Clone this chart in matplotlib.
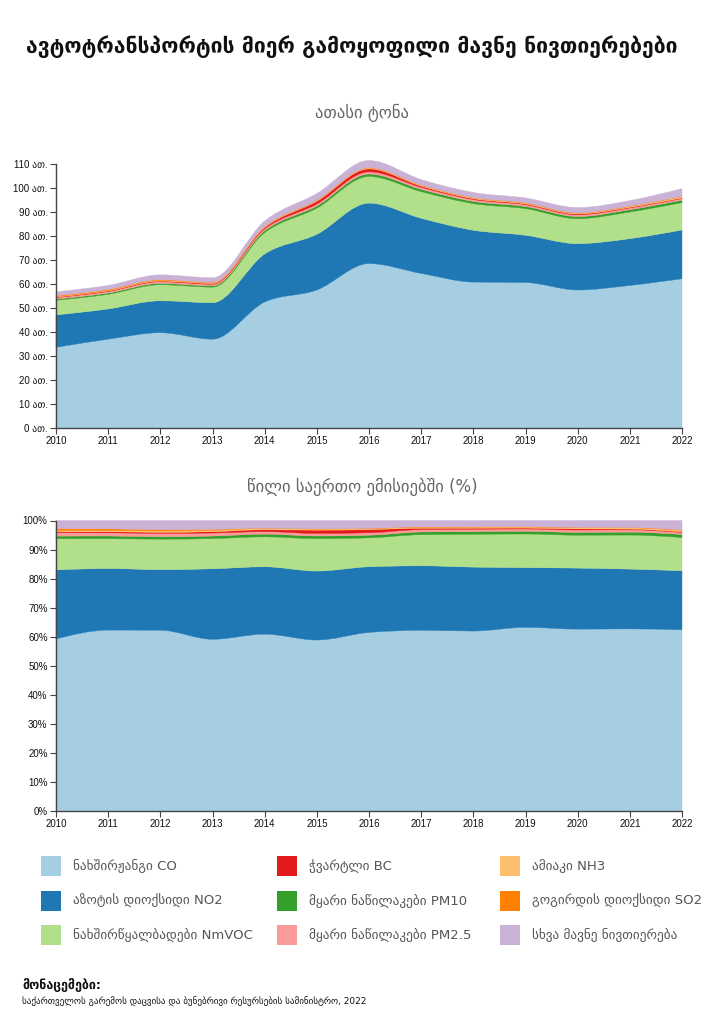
import numpy as np
import matplotlib
matplotlib.use("Agg")
import matplotlib.pyplot as plt
from matplotlib.path import Path
from matplotlib.patches import PathPatch, Rectangle

plt.rcParams['font.family'] = ['DejaVu Sans']

years = [2010, 2011, 2012, 2013, 2014, 2015, 2016, 2017, 2018, 2019, 2020, 2021, 2022]

# ათასი ტონა
co = [33.6, 37.0, 39.7, 37.0, 52.5, 57.5, 68.5, 64.4, 60.8, 60.6, 57.5, 59.4, 62.2]
no2 = [13.5, 12.6, 13.3, 15.2, 20.0, 23.2, 25.2, 23.0, 21.6, 19.7, 19.3, 19.5, 20.3]
nmvoc = [6.1, 6.1, 6.7, 6.5, 8.9, 10.9, 11.1, 11.1, 11.1, 11.1, 10.4, 11.1, 11.4]
pm10 = [0.5, 0.55, 0.55, 0.55, 0.8, 0.9, 1.0, 0.95, 0.9, 0.9, 0.9, 0.95, 1.05]
pm25 = [0.65, 0.65, 0.7, 0.65, 0.75, 0.85, 0.95, 0.85, 0.8, 0.75, 0.75, 0.75, 0.7]
bc = [0.2, 0.22, 0.25, 0.3, 0.55, 1.1, 1.2, 0.5, 0.35, 0.3, 0.35, 0.25, 0.2]
nh3 = [0.25, 0.27, 0.3, 0.3, 0.35, 0.35, 0.4, 0.35, 0.35, 0.35, 0.35, 0.4, 0.55]
so2 = [0.35, 0.33, 0.3, 0.2, 0.1, 0.1, 0.1, 0.1, 0.1, 0.1, 0.1, 0.1, 0.1]
other = [1.6, 1.7, 2.0, 1.9, 2.3, 2.8, 3.0, 2.3, 2.15, 2.05, 2.2, 2.3, 3.25]

# stacking order, bottom to top
series = [co, no2, nmvoc, pm10, pm25, bc, nh3, so2, other]
colors = ['#a6cee3', '#1f78b4', '#b2df8a', '#33a02c', '#fb9a99',
          '#e31a1c', '#fdbf6f', '#ff7f00', '#cab2d6']

legend_labels = [
    ['ნახშირჟანგი CO', 'აზოტის დიოქსიდი NO2', 'ნახშირწყალბადები NmVOC'],
    ['ჭვარტლი BC', 'მყარი ნაწილაკები PM10', 'მყარი ნაწილაკები PM2.5'],
    ['ამიაკი NH3', 'გოგირდის დიოქსიდი SO2', 'სხვა მავნე ნივთიერება'],
]
legend_colors = [
    ['#a6cee3', '#1f78b4', '#b2df8a'],
    ['#e31a1c', '#33a02c', '#fb9a99'],
    ['#fdbf6f', '#ff7f00', '#cab2d6'],
]


def tangents(x, y):
    # monotone cubic tangents (like d3.curveMonotoneX)
    n = len(x)
    h = np.diff(x)
    s = np.diff(y) / h
    t = np.zeros(n)
    for i in range(1, n - 1):
        p = (s[i - 1] * h[i] + s[i] * h[i - 1]) / (h[i - 1] + h[i])
        t[i] = (np.sign(s[i - 1]) + np.sign(s[i])) * min(abs(s[i - 1]), abs(s[i]), 0.5 * abs(p))
    t[0] = (3 * s[0] - t[1]) / 2
    t[-1] = (3 * s[-1] - t[-2]) / 2
    return t


def band(ax, x, lo, hi, color):
    x = np.asarray(x, float)
    tl, th = tangents(x, lo), tangents(x, hi)
    verts = [(x[0], hi[0])]
    codes = [Path.MOVETO]
    for k in range(len(x) - 1):
        dx = (x[k + 1] - x[k]) / 3
        verts += [(x[k] + dx, hi[k] + dx * th[k]),
                  (x[k + 1] - dx, hi[k + 1] - dx * th[k + 1]),
                  (x[k + 1], hi[k + 1])]
        codes += [Path.CURVE4] * 3
    verts.append((x[-1], lo[-1]))
    codes.append(Path.LINETO)
    for k in range(len(x) - 1, 0, -1):
        dx = (x[k] - x[k - 1]) / 3
        verts += [(x[k] - dx, lo[k] - dx * tl[k]),
                  (x[k - 1] + dx, lo[k - 1] + dx * tl[k - 1]),
                  (x[k - 1], lo[k - 1])]
        codes += [Path.CURVE4] * 3
    verts.append((x[0], hi[0]))
    codes.append(Path.CLOSEPOLY)
    ax.add_patch(PathPatch(Path(verts, codes), facecolor=color, edgecolor=color,
                           linewidth=0.3, clip_on=False))


def stacked(ax, data):
    lo = np.zeros(len(years))
    for vals, c in zip(data, colors):
        hi = lo + np.asarray(vals, float)
        band(ax, years, lo, hi, c)
        lo = hi


def style(ax):
    for side in ['top', 'right']:
        ax.spines[side].set_visible(False)
    for side in ['left', 'bottom']:
        ax.spines[side].set_color('#444444')
        ax.spines[side].set_linewidth(1.0)
    ax.set_xlim(2010, 2022)
    ax.set_xticks(years)
    ax.set_xticklabels([str(y) for y in years])
    ax.tick_params(axis='both', length=4, width=0.8, color='#444444',
                   labelsize=7, labelcolor='#111111', pad=2)
    for lab in ax.get_xticklabels() + ax.get_yticklabels():
        lab.set_family(['Liberation Sans', 'DejaVu Sans'])


fig = plt.figure(figsize=(7.24, 10.24), dpi=100)

fig.text(352 / 724, 1 - 47 / 1024, 'ავტოტრანსპორტის მიერ გამოყოფილი მავნე ნივთიერებები',
         ha='center', va='center', fontsize=15.2, fontweight='bold', color='#111111')
fig.text(0.5, 1 - 113 / 1024, 'ათასი ტონა', ha='center', va='center',
         fontsize=12, color='#666666')
fig.text(0.5, 1 - 487 / 1024, 'წილი საერთო ემისიებში (%)', ha='center', va='center',
         fontsize=12, color='#666666')

ax1 = fig.add_axes([56 / 724, 1 - 428 / 1024, 626 / 724, 264 / 1024])
stacked(ax1, series)
ax1.set_ylim(0, 110)
ax1.set_yticks(range(0, 111, 10))
ax1.set_yticklabels([f'{v} ათ.' for v in range(0, 111, 10)])
style(ax1)

totals = np.sum(np.array(series, float), axis=0)
shares = [np.asarray(s, float) / totals * 100 for s in series]

ax2 = fig.add_axes([56 / 724, 1 - 811 / 1024, 626 / 724, 290.5 / 1024])
stacked(ax2, shares)
ax2.set_ylim(0, 100)
ax2.set_yticks(range(0, 101, 10))
ax2.set_yticklabels([f'{v}%' for v in range(0, 101, 10)])
style(ax2)

# legend
col_sq_x = [41, 277, 500]
row_y = [866, 901, 935]
for ci in range(3):
    for ri in range(3):
        yc = 1 - row_y[ri] / 1024
        fig.add_artist(Rectangle((col_sq_x[ci] / 724, yc - 10 / 1024), 20 / 724, 20 / 1024,
                                 transform=fig.transFigure, facecolor=legend_colors[ci][ri],
                                 edgecolor='none'))
        fig.text((col_sq_x[ci] + 32) / 724, yc, legend_labels[ci][ri], ha='left', va='center',
                 fontsize=9.5, color='#555555')

fig.text(22 / 724, 1 - 985 / 1024, 'მონაცემები:', ha='left', va='center',
         fontsize=9, fontweight='bold', color='#111111')
fig.text(22 / 724, 1 - 1001 / 1024,
         'საქართველოს გარემოს დაცვისა და ბუნებრივი რესურსების სამინისტრო, 2022',
         ha='left', va='center', fontsize=6.5, color='#111111')

fig.savefig('out.png', dpi=100)
